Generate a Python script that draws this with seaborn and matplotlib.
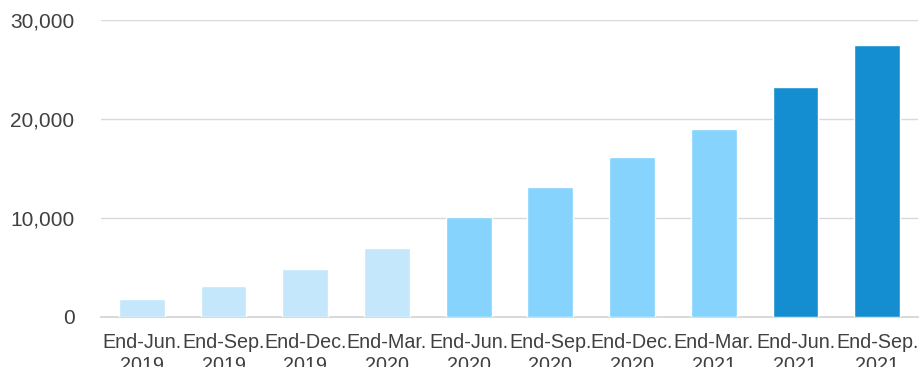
import matplotlib
matplotlib.use("Agg")
import matplotlib.pyplot as plt
import seaborn as sns
import pandas as pd
from matplotlib.ticker import FuncFormatter

# Quarter-end labels (two lines each) and values
periods = ["End-Jun.\n2019", "End-Sep.\n2019", "End-Dec.\n2019", "End-Mar.\n2020",
           "End-Jun.\n2020", "End-Sep.\n2020", "End-Dec.\n2020", "End-Mar.\n2021",
           "End-Jun.\n2021", "End-Sep.\n2021"]
values = [1750, 3100, 4800, 6900, 10050, 13100, 16100, 19000, 23200, 27500]
years = ["2019", "2019", "2019", "2019", "2020", "2020", "2020", "2020", "2021", "2021"]

# Each reporting year gets its own shade of blue
year_colors = {"2019": "#C4E7FB", "2020": "#86D3FE", "2021": "#148ED0"}
bar_colors = [year_colors[y] for y in years]

df = pd.DataFrame({"period": periods, "value": values})

sns.set_style("white")
plt.rcParams["font.family"] = ["Liberation Sans", "DejaVu Sans"]

fig = plt.figure(figsize=(9.19, 3.67), dpi=100)
ax = fig.add_axes([101 / 919, 1 - 316.5 / 367, 817 / 919, (316.5 - 20) / 367])

sns.barplot(data=df, x="period", y="value", hue="period",
            palette=bar_colors, legend=False, width=0.56,
            saturation=1, ax=ax)

ax.set_ylim(0, 30000)
ax.set_xlim(-0.5, len(periods) - 0.5)
ax.set_yticks([0, 10000, 20000, 30000])
ax.yaxis.set_major_formatter(FuncFormatter(lambda v, p: f"{int(v):,}"))
ax.yaxis.grid(True, color="#D9D9D9", linewidth=1.0)
ax.set_axisbelow(True)

for side in ["top", "right", "left"]:
    ax.spines[side].set_visible(False)
ax.spines["bottom"].set_color("#D9D9D9")
ax.spines["bottom"].set_linewidth(1.4)
ax.spines["bottom"].set_zorder(0.5)

ax.set_xlabel("")
ax.set_ylabel("")
ax.tick_params(axis="y", length=0, pad=19, labelsize=15, labelcolor="#404040")
ax.tick_params(axis="x", length=0, pad=12, labelsize=14.2, labelcolor="#404040")
for lbl in ax.get_xticklabels():
    lbl.set_linespacing(1.25)

fig.savefig("out.png", dpi=100)
